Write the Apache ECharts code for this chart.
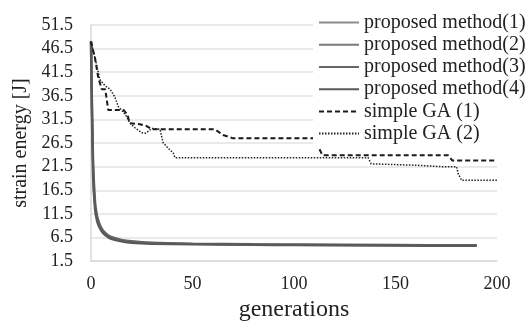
<!DOCTYPE html>
<html>
<head>
<meta charset="utf-8">
<script src="https://cdn.jsdelivr.net/npm/echarts@6/dist/echarts.min.js"></script>
<style>
  html, body { margin: 0; padding: 0; background: #fff; }
  #main { width: 529px; height: 327px; }
</style>
</head>
<body>
<div id="main"></div>
<script>
var yTicks = [1.5, 6.5, 11.5, 16.5, 21.5, 26.5, 31.5, 36.5, 41.5, 46.5, 51.5];

// proposed method: generations and strain energy
var propGen = [0, 1, 2, 3, 4, 5, 6, 8, 10, 15, 20, 30, 50, 80, 100, 150, 190];
var prop1 = [48, 22, 13.5, 10.6, 9.3, 8.4, 7.7, 6.9, 6.4, 5.8, 5.5, 5.3, 5.1, 5.0, 4.95, 4.85, 4.8];
var prop2 = [48, 21, 13, 10.3, 9.0, 8.2, 7.5, 6.8, 6.3, 5.8, 5.5, 5.3, 5.1, 5.0, 4.9, 4.85, 4.8];
var prop3 = [48, 23, 14, 11, 9.6, 8.6, 7.9, 7.1, 6.6, 6.0, 5.7, 5.4, 5.2, 5.05, 5.0, 4.9, 4.85];
var prop4 = [48, 20, 12.5, 10, 8.8, 8.0, 7.4, 6.7, 6.2, 5.7, 5.4, 5.2, 5.05, 4.95, 4.9, 4.8, 4.75];

// simple GA (1)
var ga1Gen = [0, 2, 3.6, 5.3, 7, 8.5, 16, 18, 19, 24, 27.4, 30, 61, 65, 70, 110, 114, 176, 178, 200];
var ga1 = [48, 44.4, 40.3, 37.9, 37.9, 33.5, 33.5, 32.5, 30.7, 30.5, 30.1, 29.4, 29.4, 28.2, 27.5, 27.5, 23.9, 23.9, 22.8, 22.8];

// simple GA (2)
var ga2Gen = [0, 2.8, 4.4, 7, 9.4, 11.8, 13.5, 15, 17.6, 19, 21.7, 25, 27, 30, 34, 35.5, 38, 40.5, 41.4, 136.5, 138, 160, 173, 180, 181, 182.6, 200];
var ga2 = [48, 43, 39.9, 38.6, 37.9, 36.2, 34.2, 33.5, 32.1, 30.8, 29.7, 28.7, 28.6, 29.6, 29.4, 26.6, 25.4, 24.4, 23.4, 23.4, 22.1, 21.8, 21.5, 21.5, 19.9, 18.6, 18.6];

function pairs(xs, ys) {
  return xs.map(function (x, i) { return [x, ys[i]]; });
}

var chartDom = document.getElementById('main');
var myChart = echarts.init(chartDom);
var serif = '"Liberation Serif", serif';

var option = {
  animation: false,
  backgroundColor: '#fff',
  textStyle: { fontFamily: serif },
  grid: { left: 91, right: 32, top: 25, bottom: 57 },
  legend: {
    orient: 'vertical',
    left: 313,
    top: 8,
    padding: [4, 6, 4, 5],
    backgroundColor: '#fff',
    itemWidth: 40,
    itemHeight: 12,
    itemGap: 1,
    itemStyle: { opacity: 0 },
    textStyle: { fontFamily: serif, fontSize: 20, color: '#222', lineHeight: 21.2 },
    data: ['proposed method(1)', 'proposed method(2)', 'proposed method(3)', 'proposed method(4)', 'simple GA (1)', 'simple GA (2)']
  },
  xAxis: {
    type: 'value',
    min: 0,
    max: 200,
    interval: 50,
    name: 'generations',
    nameLocation: 'middle',
    nameGap: 32,
    nameTextStyle: { fontFamily: serif, fontSize: 24, color: '#222' },
    axisLine: { show: true, lineStyle: { color: '#d9d9d9', width: 1.5 } },
    axisTick: { show: false },
    splitLine: { show: false },
    axisLabel: { fontFamily: serif, fontSize: 18, color: '#222', margin: 14 }
  },
  yAxis: {
    type: 'value',
    min: 1.5,
    max: 51.5,
    name: 'strain energy [J]',
    nameLocation: 'middle',
    nameGap: 53,
    nameTextStyle: { fontFamily: serif, fontSize: 20, color: '#222' },
    axisLine: { show: true, lineStyle: { color: '#d9d9d9', width: 1.5 } },
    axisTick: { show: false, customValues: yTicks },
    splitLine: { show: true, lineStyle: { color: '#e3e3e3', width: 1.5 } },
    axisLabel: { fontFamily: serif, fontSize: 18, color: '#222', margin: 18, customValues: yTicks }
  },
  series: [
    {
      name: 'proposed method(1)', type: 'line', symbol: 'none', smooth: 0.3,
      itemStyle: { color: '#8c8c8c' },
      lineStyle: { color: '#8c8c8c', width: 1.5 },
      data: pairs(propGen, prop1)
    },
    {
      name: 'proposed method(2)', type: 'line', symbol: 'none', smooth: 0.3,
      itemStyle: { color: '#7a7a7a' },
      lineStyle: { color: '#7a7a7a', width: 2 },
      data: pairs(propGen, prop2)
    },
    {
      name: 'proposed method(3)', type: 'line', symbol: 'none', smooth: 0.3,
      itemStyle: { color: '#666' },
      lineStyle: { color: '#666', width: 2.5 },
      data: pairs(propGen, prop3)
    },
    {
      name: 'proposed method(4)', type: 'line', symbol: 'none', smooth: 0.3,
      itemStyle: { color: '#5a5a5a' },
      lineStyle: { color: '#5a5a5a', width: 2.5 },
      data: pairs(propGen, prop4)
    },
    {
      name: 'simple GA (1)', type: 'line', symbol: 'none',
      itemStyle: { color: '#1a1a1a' },
      lineStyle: { color: '#1a1a1a', width: 2, type: [5, 3] },
      data: pairs(ga1Gen, ga1)
    },
    {
      name: 'simple GA (2)', type: 'line', symbol: 'none',
      itemStyle: { color: '#222' },
      lineStyle: { color: '#222', width: 1.5, type: [1.5, 1.5] },
      data: pairs(ga2Gen, ga2)
    }
  ]
};

option && myChart.setOption(option);
</script>
</body>
</html>
